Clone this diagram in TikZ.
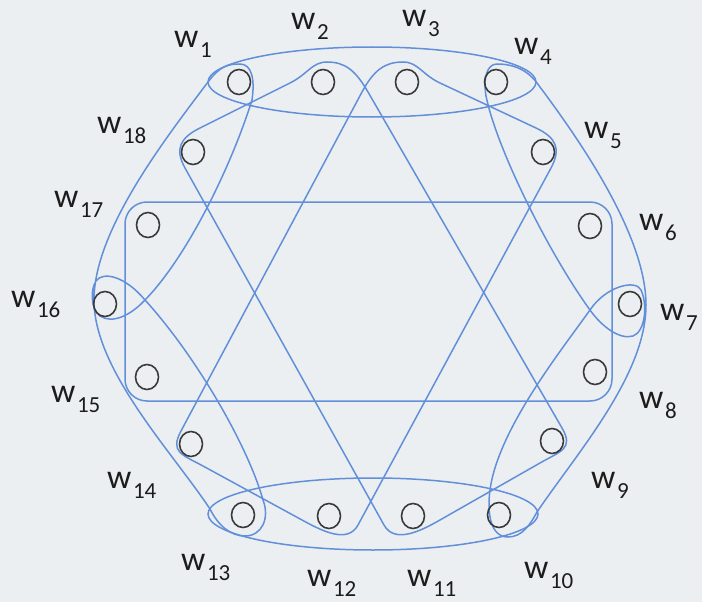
\documentclass[tikz,border=0pt]{standalone}
\usepackage{fontspec}
\setmainfont{Carlito}
\usetikzlibrary{shapes.geometric}
\definecolor{bgc}{RGB}{236,239,241}
\definecolor{edgec}{RGB}{98,143,218}
\definecolor{ringc}{RGB}{58,58,58}
\definecolor{inkc}{RGB}{28,28,28}
\newcommand\wlab[1]{w\kern1.5pt\raisebox{-10pt}{\fontsize{23}{23}\selectfont #1}}
\begin{document}
\begin{tikzpicture}[x=1pt,y=-1pt,
  vtx/.style={draw=ringc, line width=1.6pt, ellipse, minimum width=23pt, minimum height=25pt, inner sep=0pt},
  hedge/.style={draw=edgec, line width=1.5pt},
  lab/.style={text=inkc, anchor=base west, inner sep=0pt, font=\fontsize{34}{34}\selectfont}]
\fill[bgc] (0,0) rectangle (702,602);
\useasboundingbox (0,0) rectangle (702,602);

% hyperedges
\draw[hedge] (372,82) ellipse [x radius=164pt, y radius=35pt];
\draw[hedge] (373,514) ellipse [x radius=165pt, y radius=36pt];
\draw[hedge, rounded corners=22pt] (125,202) rectangle (612,401);

% band w2-w9-w11-w18
\draw[hedge] (368,92) -- (562,428)
  .. controls (574,448.8) and (560.8,451.1) .. (540,463) -- (440,520)
  .. controls (420.9,530.9) and (394.7,544.2) .. (384,525) -- (185,168)
  .. controls (174.3,148.8) and (180.3,137.8) .. (200,128) -- (290,83)
  .. controls (307.9,74.1) and (312,62) .. (327,62)
  .. controls (345,62) and (355.5,70.35) .. cycle;

% band w3-w5-w12-w14
\draw[hedge] (362,92) -- (181,431)
  .. controls (169.7,452.2) and (181.9,454.5) .. (203,466) -- (302,520)
  .. controls (321.3,530.5) and (347.5,544.4) .. (358,525) -- (551,168)
  .. controls (561.5,148.6) and (555.9,137.4) .. (536,128) -- (440,83)
  .. controls (421.9,74.5) and (418,62) .. (403,62)
  .. controls (385,62) and (373.8,70) .. cycle;

% left crescent w1-w16-w13
\draw[hedge] (210,509) .. controls (171.5,451) and (94,370) .. (94,300)
  .. controls (94,230) and (166,138) .. (208,82)
  .. controls (220,66) and (228,64) .. (240,64)
  .. controls (252,64) and (255,80) .. (252,100)
  .. controls (231,167) and (187,257) .. (145,300)
  .. controls (130,316) and (112,324) .. (100,316)
  .. controls (91,309) and (90,290) .. (96,281)
  .. controls (103,271) and (125,276) .. (145,300)
  .. controls (196,356) and (248,446) .. (263,500)
  .. controls (270,518) and (262,536) .. (245,536)
  .. controls (230,536) and (218,525) .. cycle;

% right crescent w4-w7-w10
\draw[hedge] (537,512) .. controls (577,453) and (646,375) .. (646,305)
  .. controls (646,235) and (579,139) .. (537,83)
  .. controls (525,67) and (509,64) .. (497,64)
  .. controls (487,64) and (483,78) .. (486,96)
  .. controls (497,150) and (550,255) .. (590,310)
  .. controls (602,327) and (620,340) .. (633,336)
  .. controls (645,332) and (648,305) .. (641,290)
  .. controls (636,279) and (606,286) .. (590,310)
  .. controls (560,352) and (498,430) .. (490,490)
  .. controls (487,512) and (490,537) .. (508,537)
  .. controls (522,537) and (530,525) .. cycle;

% vertices
\node[vtx] (w1) at (239,82) {};
\node[vtx] (w2) at (323,82) {};
\node[vtx] (w3) at (407,82) {};
\node[vtx] (w4) at (496,82) {};
\node[vtx] (w5) at (543,152) {};
\node[vtx] (w6) at (590,226) {};
\node[vtx] (w7) at (630,304) {};
\node[vtx] (w8) at (595,372) {};
\node[vtx] (w9) at (552,441) {};
\node[vtx] (w10) at (499,515) {};
\node[vtx] (w11) at (413,516) {};
\node[vtx] (w12) at (329,516) {};
\node[vtx] (w13) at (243,515) {};
\node[vtx] (w14) at (191,444) {};
\node[vtx] (w15) at (147,377) {};
\node[vtx] (w16) at (105,304) {};
\node[vtx] (w17) at (148,225) {};
\node[vtx] (w18) at (193,152) {};

% labels
\node[lab] (l1) at (174,48) {\wlab{1}};
\node[lab] (l2) at (291,30) {\wlab{2}};
\node[lab] (l3) at (402,27) {\wlab{3}};
\node[lab] (l4) at (514,55) {\wlab{4}};
\node[lab] (l5) at (584,138) {\wlab{5}};
\node[lab] (l6) at (639,230) {\wlab{6}};
\node[lab] (l7) at (660,320) {\wlab{7}};
\node[lab] (l8) at (639,408) {\wlab{8}};
\node[lab] (l9) at (591,488) {\wlab{9}};
\node[lab] (l10) at (524,578) {\wlab{10}};
\node[lab] (l11) at (407,586) {\wlab{11}};
\node[lab] (l12) at (307,586) {\wlab{12}};
\node[lab] (l13) at (181,570) {\wlab{13}};
\node[lab] (l14) at (107,488) {\wlab{14}};
\node[lab] (l15) at (51,402) {\wlab{15}};
\node[lab] (l16) at (11,307) {\wlab{16}};
\node[lab] (l17) at (54,207) {\wlab{17}};
\node[lab] (l18) at (97,133) {\wlab{18}};
\end{tikzpicture}
\end{document}
